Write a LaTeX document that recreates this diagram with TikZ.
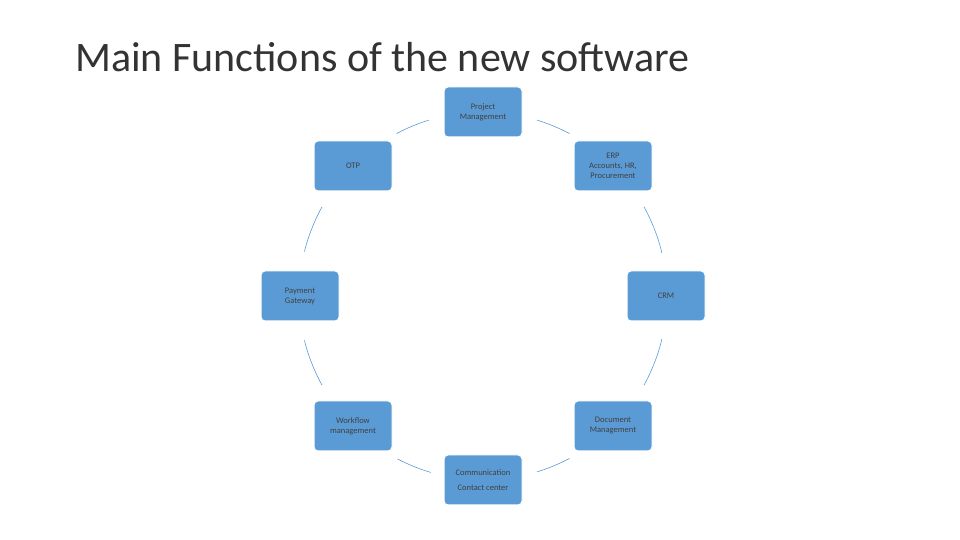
\documentclass[tikz,border=0pt]{standalone}
\usepackage{fontspec}
\setmainfont{Carlito}
\usetikzlibrary{calc}
\definecolor{nodeblue}{HTML}{5B9BD5}
\begin{document}
\begin{tikzpicture}[x=1pt,y=1pt,
  fbox/.style={draw=white,line width=1pt,fill=nodeblue,rounded corners=4pt,minimum width=78pt,minimum height=50pt,inner sep=1pt,align=center,font=\fontsize{8.5}{10}\selectfont,text=black!75},
  link/.style={draw=nodeblue,line width=0.6pt}]
\useasboundingbox (0,0) rectangle (960,540);
\node[anchor=base west,font=\fontsize{42}{46}\selectfont,text=black!80,inner sep=0pt] (title) at (75,468) {Main Functions of the new software};
\coordinate (c) at (483,244);
\node[fbox] (pm) at (483,428) {Project\\Management};
\node[fbox] (erp) at (613,374) {ERP\\Accounts, HR,\\Procurement};
\node[fbox] (otp) at (353,374) {OTP};
\node[fbox] (pay) at (300,244) {Payment\\Gateway};
\node[fbox] (crm) at (666,244) {CRM};
\node[fbox] (wf) at (353,114) {Workflow\\management};
\node[fbox] (doc) at (613,114) {Document\\Management};
\node[fbox,font=\fontsize{8.5}{15}\selectfont] (com) at (483,60) {Communication\\Contact center};
\foreach \a/\b in {73/62, 29/13.5, -13.5/-29, -62/-73, -106.5/-117.7, -151/-166, 166/151, 118/107}
  \draw[link] ($(c)+(\a:184)$) arc[start angle=\a,end angle=\b,radius=184];
\end{tikzpicture}
\end{document}
